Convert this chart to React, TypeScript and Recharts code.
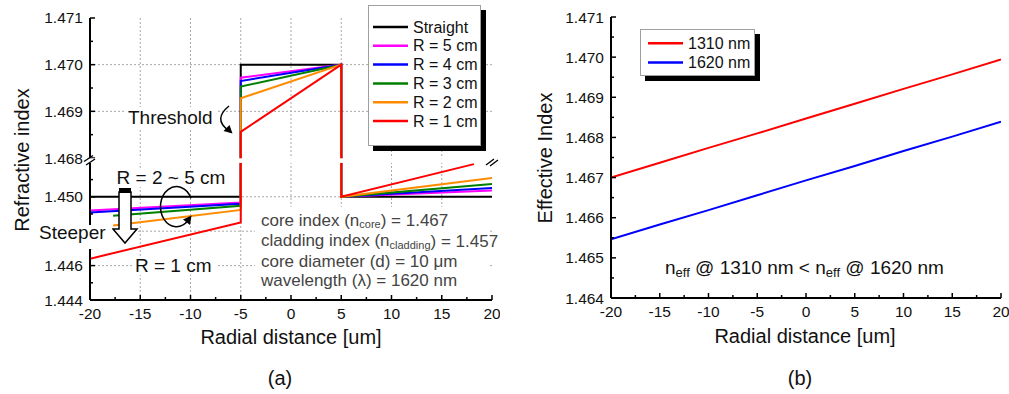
import React from 'react';
import { LineChart, Line, XAxis, YAxis, ReferenceLine, Legend } from 'recharts';

const FONT = '"Liberation Sans", Arial, Helvetica, sans-serif';

// ---------- shared x ticks ----------
const radialMajor = [-20, -15, -10, -5, 0, 5, 10, 15, 20];
const radialMinor = [-17.5, -12.5, -7.5, -2.5, 2.5, 7.5, 12.5, 17.5];

// ---------- panel (a) ----------
const namesA = ['Straight', 'R = 5 cm', 'R = 4 cm', 'R = 3 cm', 'R = 2 cm', 'R = 1 cm'];
const colorsA = ['#000000', '#ff00ff', '#0000ff', '#008000', '#ff8c00', '#ff0000'];
const straightX = [-20, -5, -5, 5, 5, 20];
const straightN = [1.45, 1.45, 1.47, 1.47, 1.45, 1.45];
const r5X = [-20, -5, -5, 5, 5, 20];
const r5N = [1.4492, 1.44967, 1.46972, 1.47, 1.45, 1.45037];
const r4X = [-20, -5, -5, 5, 5, 20];
const r4N = [1.44909, 1.44959, 1.46965, 1.47, 1.45, 1.45051];
const r3X = [-17.7, -5, -5, 5, 5, 20];
const r3N = [1.4489, 1.44948, 1.46953, 1.47, 1.45, 1.45074];
const r2X = [-17.7, -5, -5, 5, 5, 20];
const r2N = [1.44833, 1.44924, 1.46928, 1.47, 1.45, 1.45109];
const r1X = [-20, -5, -5, 5, 5, 18.2];
const r1N = [1.4464, 1.44851, 1.46856, 1.47, 1.45, 1.4519];

const yMajorA = [1.444, 1.446, 1.448, 1.45, 1.468, 1.469, 1.47, 1.471];
const yLabelsA = ['1.444', '1.446', '', '1.450', '1.468', '1.469', '1.470', '1.471'];
const yMinorA = [1.445, 1.447, 1.449, 1.451, 1.4685, 1.4695, 1.4705];
const gridYA = [1.446, 1.448, 1.45, 1.469, 1.47];
const gridXA = [-15, -10, -5, 0, 5, 10, 15];

// ---------- panel (b) ----------
const namesB = ['1310 nm', '1620 nm'];
const colorsB = ['#ff0000', '#0000ff'];
const radialB = [-20, -15, -10, -5, 0, 5, 10, 15, 20];
const n1310 = [1.467, 1.46737, 1.46774, 1.4681, 1.46847, 1.46884, 1.46921, 1.46957, 1.46994];
const n1620 = [1.46546, 1.46583, 1.46619, 1.46656, 1.46693, 1.46729, 1.46766, 1.46802, 1.46839];
const yMajorB = [1.464, 1.465, 1.466, 1.467, 1.468, 1.469, 1.47, 1.471];
const yLabelsB = ['1.464', '1.465', '1.466', '1.467', '1.468', '1.469', '1.470', '1.471'];
const yMinorB = [1.4645, 1.4655, 1.4665, 1.4675, 1.4685, 1.4695, 1.4705];

// broken y axis of panel (a): lower segment 1.444..1.452, upper 1.468..1.471
const brokenY = (v: number) => (v >= 1.46 ? 142 + (v - 1.468) * 46667 : (v - 1.444) * 17200);
const DOMAIN_A: [number, number] = [0, 282];

type TickEntry = { d: number; label: string; major: boolean };

const buildEntries = (major: number[], labels: string[], minor: number[], f: (v: number) => number): TickEntry[] => [
  ...major.map((v, i) => ({ d: f(v), label: labels[i], major: true })),
  ...minor.map((v) => ({ d: f(v), label: '', major: false })),
];

const findEntry = (entries: TickEntry[], val: number) => {
  let best = entries[0];
  let diff = Infinity;
  for (const e of entries) {
    const dd = Math.abs(e.d - val);
    if (dd < diff) {
      diff = dd;
      best = e;
    }
  }
  return best;
};

const makeYTick = (entries: TickEntry[]) => (props: any) => {
  const { x, y, payload } = props;
  const e = findEntry(entries, payload.value);
  const len = e.major ? 5 : 3;
  return (
    <g>
      <line x1={x} x2={x + len} y1={y} y2={y} stroke="#000" strokeWidth={1.5} />
      {e.major && e.label ? (
        <text x={x - 7} y={y} textAnchor="end" dominantBaseline="central" fontSize={15.5} fontFamily={FONT} fill="#111">
          {e.label}
        </text>
      ) : null}
    </g>
  );
};

const xEntries: TickEntry[] = buildEntries(radialMajor, radialMajor.map((v) => String(v)), radialMinor, (v) => v);

const XTick = (props: any) => {
  const { x, y, payload } = props;
  const e = findEntry(xEntries, payload.value);
  const len = e.major ? 5 : 3;
  return (
    <g>
      <line x1={x} x2={x} y1={y} y2={y - len} stroke="#000" strokeWidth={1.5} />
      {e.major ? (
        <text x={x} y={y + 13} textAnchor="middle" dominantBaseline="central" fontSize={15.5} fontFamily={FONT} fill="#111">
          {e.label}
        </text>
      ) : null}
    </g>
  );
};

const entriesA = buildEntries(yMajorA, yLabelsA, yMinorA, brokenY);
const entriesB = buildEntries(yMajorB, yLabelsB, yMinorB, (v) => v);
const YTickA = makeYTick(entriesA);
const YTickB = makeYTick(entriesB);

const xsA = [straightX, r5X, r4X, r3X, r2X, r1X];
const nsA = [straightN, r5N, r4N, r3N, r2N, r1N];
const seriesA = namesA.map((name, k) => ({
  name,
  color: colorsA[k],
  data: xsA[k].map((x, i) => ({ x, y: brokenY(nsA[k][i]) })),
}));

const dataB = radialB.map((x, i) => ({ x, a: n1310[i], b: n1620[i] }));

const LegendBox = (props: any) => {
  const { payload, order, w, h, rowTop, rowGap, lineX0, lineX1, textX } = props;
  const items = [...(payload || [])].sort(
    (p: any, q: any) => order.indexOf(p.value) - order.indexOf(q.value)
  );
  return (
    <div style={{ position: 'relative', width: w + 5, height: h + 5, fontFamily: FONT }}>
      <div style={{ position: 'absolute', left: 5, top: 5, width: w, height: h, background: '#000' }} />
      <div
        style={{
          position: 'absolute',
          left: 0,
          top: 0,
          width: w,
          height: h,
          background: '#fff',
          border: '1px solid #a0a0a0',
          boxSizing: 'border-box',
        }}
      />
      <svg style={{ position: 'absolute', left: 0, top: 0 }} width={w} height={h}>
        {items.map((p: any, i: number) => (
          <g key={i}>
            <line x1={lineX0} x2={lineX1} y1={rowTop + i * rowGap} y2={rowTop + i * rowGap} stroke={p.color} strokeWidth={2.5} />
            <text x={textX} y={rowTop + i * rowGap} dominantBaseline="central" fontSize={16} fontFamily={FONT} fill="#111">
              {p.value}
            </text>
          </g>
        ))}
      </svg>
    </div>
  );
};

const dotted = { stroke: '#a8a8a8', strokeDasharray: '2 2', strokeWidth: 1 };

const Overlay = () => (
  <svg
    width={1009}
    height={394}
    style={{ position: 'absolute', left: 0, top: 0, pointerEvents: 'none', zIndex: 10 }}
    fontFamily={FONT}
  >
    {/* axis break of panel (a) */}
    <rect x={86} y={158.3} width={411} height={4.6} fill="#fff" />
    <line x1={84} y1={161.5} x2={93} y2={155.5} stroke="#000" strokeWidth={1.3} />
    <line x1={86} y1={165} x2={95} y2={159} stroke="#000" strokeWidth={1.3} />
    <line x1={486} y1={165} x2={494} y2={159} stroke="#000" strokeWidth={1.3} />
    <line x1={490} y1={166} x2={498} y2={160} stroke="#000" strokeWidth={1.3} />

    {/* Threshold */}
    <rect x={125} y={107} width={92} height={21} fill="#fff" />
    <text x={128} y={117.5} dominantBaseline="central" fontSize={19} fill="#111">Threshold</text>
    <path d="M 229 106 Q 213 119 228 130" fill="none" stroke="#000" strokeWidth={1.5} />
    <polygon points="232.5,133.5 223.5,131 229.5,125" fill="#000" />

    {/* R = 2 ~ 5 cm */}
    <rect x={112} y={168} width={118} height={19} fill="#fff" />
    <text x={171} y={177.5} textAnchor="middle" dominantBaseline="central" fontSize={19} fill="#111">R = 2 ~ 5 cm</text>

    {/* block arrow */}
    <polygon points="119,192 131,192 131,229 137,229 125,243 113,229 119,229" fill="#fff" stroke="#000" strokeWidth={1.5} />
    <rect x={119} y={188} width={12} height={5} fill="#000" />

    {/* rotating arrow */}
    <path d="M 191 198.3 A 16 20 0 1 0 187.8 220.8" fill="none" stroke="#000" strokeWidth={1.5} />
    <polygon points="191.5,215.5 190,225 183,219.5" fill="#000" />

    {/* Steeper */}
    <rect x={37} y={225} width={75} height={24} fill="#fff" />
    <text x={39} y={232.5} dominantBaseline="central" fontSize={19} fill="#111">Steeper</text>

    {/* R = 1 cm */}
    <rect x={132} y={256} width={84} height={19} fill="#fff" />
    <text x={135} y={265.5} dominantBaseline="central" fontSize={19} fill="#111">R = 1 cm</text>

    {/* info block */}
    <rect x={255} y={207} width={234} height={88} fill="#fff" />
    <g fontSize={17} fill="#444">
      <text x={261} y={220} dominantBaseline="central">
        core index (n<tspan fontSize={11} dy={4}>core</tspan>
        <tspan dy={-4}>) = 1.467</tspan>
      </text>
      <text x={261} y={240.5} dominantBaseline="central">
        cladding index (n<tspan fontSize={11} dy={4}>cladding</tspan>
        <tspan dy={-4}>) = 1.457</tspan>
      </text>
      <text x={261} y={261} dominantBaseline="central">core diameter (d) = 10 μm</text>
      <text x={261} y={280.5} dominantBaseline="central">wavelength (λ) = 1620 nm</text>
    </g>

    {/* titles (a) */}
    <text x={22} y={160} transform="rotate(-90 22 160)" textAnchor="middle" dominantBaseline="central" fontSize={20} fill="#111">
      Refractive index
    </text>
    <text x={291} y={337} textAnchor="middle" dominantBaseline="central" fontSize={20} fill="#111">Radial distance [um]</text>
    <text x={280} y={378} textAnchor="middle" dominantBaseline="central" fontSize={20} fill="#111">(a)</text>

    {/* panel (b) annotation */}
    <text x={665} y={267} dominantBaseline="central" fontSize={19} fill="#111">
      n<tspan fontSize={13} dy={5}>eff</tspan>
      <tspan dy={-5}> @ 1310 nm &lt; n</tspan>
      <tspan fontSize={13} dy={5}>eff</tspan>
      <tspan dy={-5}> @ 1620 nm</tspan>
    </text>

    {/* titles (b) */}
    <text x={545} y={158} transform="rotate(-90 545 158)" textAnchor="middle" dominantBaseline="central" fontSize={20} fill="#111">
      Effective Index
    </text>
    <text x={805} y={336} textAnchor="middle" dominantBaseline="central" fontSize={20} fill="#111">Radial distance [um]</text>
    <text x={800} y={378} textAnchor="middle" dominantBaseline="central" fontSize={20} fill="#111">(b)</text>
  </svg>
);

export default function App() {
  return (
    <div style={{ position: 'absolute', left: 0, top: 0, width: 1009, height: 394, background: '#fff', fontFamily: FONT }}>
      {/* panel (a) */}
      <div style={{ position: 'absolute', left: 0, top: 0 }}>
        <LineChart width={500} height={394} margin={{ top: 18, right: 8, left: 0, bottom: 54 }}>
          <XAxis
            dataKey="x"
            type="number"
            domain={[-20, 20]}
            allowDataOverflow
            ticks={[...radialMajor, ...radialMinor]}
            interval={0}
            height={40}
            tickSize={0}
            tickMargin={0}
            tickLine={false}
            tick={XTick}
            axisLine={{ stroke: '#000', strokeWidth: 2 }}
          />
          <XAxis
            xAxisId="top"
            orientation="top"
            dataKey="x"
            type="number"
            domain={[-20, 20]}
            allowDataOverflow
            height={0}
            tick={false}
            tickLine={false}
            axisLine={{ stroke: '#000', strokeWidth: 2 }}
          />
          <YAxis
            type="number"
            domain={DOMAIN_A}
            allowDataOverflow
            ticks={entriesA.map((e) => e.d)}
            interval={0}
            width={90}
            tickSize={0}
            tickMargin={0}
            tickLine={false}
            tick={YTickA}
            axisLine={{ stroke: '#000', strokeWidth: 2 }}
          />
          <YAxis
            yAxisId="right"
            orientation="right"
            type="number"
            domain={DOMAIN_A}
            allowDataOverflow
            width={0}
            tick={false}
            tickLine={false}
            axisLine={{ stroke: '#000', strokeWidth: 2 }}
          />
          {gridYA.map((v) => (
            <ReferenceLine key={'gy' + v} y={brokenY(v)} {...dotted} />
          ))}
          {gridXA.map((v) => (
            <ReferenceLine key={'gx' + v} x={v} {...dotted} />
          ))}
          {seriesA.map((s) => (
            <Line
              key={s.name}
              data={s.data}
              dataKey="y"
              name={s.name}
              type="linear"
              stroke={s.color}
              strokeWidth={2}
              dot={false}
              activeDot={false}
              isAnimationActive={false}
            />
          ))}
          <Legend
            layout="horizontal"
            verticalAlign="middle"
            align="center"
            wrapperStyle={{ left: 368, top: 5, width: 'auto', height: 'auto' }}
            content={(p: any) => (
              <LegendBox payload={p.payload} order={namesA} w={113} h={141} rowTop={22} rowGap={18.8} lineX0={5} lineX1={40} textX={45} />
            )}
          />
        </LineChart>
      </div>

      {/* panel (b) */}
      <div style={{ position: 'absolute', left: 500, top: 0 }}>
        <LineChart width={509} height={394} data={dataB} margin={{ top: 17, right: 8, left: 0, bottom: 56 }}>
          <XAxis
            dataKey="x"
            type="number"
            domain={[-20, 20]}
            allowDataOverflow
            ticks={[...radialMajor, ...radialMinor]}
            interval={0}
            height={40}
            tickSize={0}
            tickMargin={0}
            tickLine={false}
            tick={XTick}
            axisLine={{ stroke: '#000', strokeWidth: 2 }}
          />
          <XAxis
            xAxisId="top"
            orientation="top"
            dataKey="x"
            type="number"
            domain={[-20, 20]}
            allowDataOverflow
            height={0}
            tick={false}
            tickLine={false}
            axisLine={{ stroke: '#555', strokeWidth: 1.5 }}
          />
          <YAxis
            type="number"
            domain={[1.464, 1.471]}
            allowDataOverflow
            ticks={entriesB.map((e) => e.d)}
            interval={0}
            width={111}
            tickSize={0}
            tickMargin={0}
            tickLine={false}
            tick={YTickB}
            axisLine={{ stroke: '#000', strokeWidth: 2 }}
          />
          <YAxis
            yAxisId="right"
            orientation="right"
            type="number"
            domain={[1.464, 1.471]}
            allowDataOverflow
            width={0}
            tick={false}
            tickLine={false}
            axisLine={{ stroke: '#555', strokeWidth: 1.5 }}
          />
          <Line dataKey="a" name={namesB[0]} type="linear" stroke={colorsB[0]} strokeWidth={2} dot={false} activeDot={false} isAnimationActive={false} />
          <Line dataKey="b" name={namesB[1]} type="linear" stroke={colorsB[1]} strokeWidth={2} dot={false} activeDot={false} isAnimationActive={false} />
          <Legend
            layout="horizontal"
            verticalAlign="middle"
            align="center"
            wrapperStyle={{ left: 140, top: 29, width: 'auto', height: 'auto' }}
            content={(p: any) => (
              <LegendBox payload={p.payload} order={namesB} w={115} h={47} rowTop={14.3} rowGap={19.3} lineX0={8} lineX1={43} textX={48} />
            )}
          />
        </LineChart>
      </div>

      <Overlay />
    </div>
  );
}
